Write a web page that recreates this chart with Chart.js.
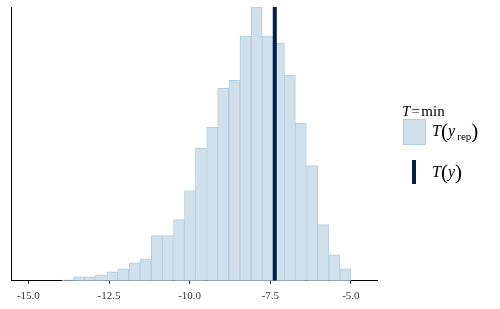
<!DOCTYPE html>
<html>
<head>
<meta charset="utf-8">
<script src="https://cdn.jsdelivr.net/npm/chart.js@4/dist/chart.umd.min.js"></script>
<style>
  html, body { margin: 0; padding: 0; background: #fff; }
  #wrap { position: relative; width: 500px; height: 309px; }
  canvas { position: absolute; left: 0; top: 0; }
  .lg { position: absolute; font-family: "Liberation Serif", "DejaVu Serif", serif; color: #000; white-space: nowrap; line-height: 1; }
  .it { font-style: italic; }
  .par { font-size: 21px; vertical-align: -2px; }
</style>
</head>
<body>
<div id="wrap">
  <canvas id="c" width="500" height="309"></canvas>
  <div class="lg" style="left:402px; top:104px; font-size:15px;"><span class="it">T</span>&#8202;=&#8202;min</div>
  <div style="position:absolute; left:403px; top:119px; width:21px; height:24px; background:#d1e1ec; border:1px solid #b3cde0;"></div>
  <div class="lg" style="left:432px; top:121px; font-size:16px;"><span class="it">T</span><span class="par">(</span><span class="it">y</span><sub style="font-size:11px; vertical-align:-4px;">&#8201;rep</sub><span class="par">)</span></div>
  <div style="position:absolute; left:412px; top:160px; width:4px; height:24px; background:#011f4b;"></div>
  <div class="lg" style="left:432px; top:162px; font-size:16px;"><span class="it">T</span><span class="par">(</span><span class="it">y</span><span class="par">)</span></div>
</div>
<script>
// Histogram bin centers (statistic T = min of y_rep)
const binCenters = [-13.78, -13.43, -13.09, -12.75, -12.40, -12.06, -11.71, -11.37, -11.02, -10.68,
                    -10.33, -9.99, -9.65, -9.30, -8.96, -8.61, -8.27, -7.92, -7.58, -7.23,
                    -6.89, -6.55, -6.20, -5.86, -5.51, -5.17];
const binCounts = [1, 4, 4, 6, 9, 12, 18, 22, 45, 45,
                   61, 90, 132, 153, 192, 200, 244, 273, 244, 237,
                   205, 157, 115, 56, 26, 12];
// Observed statistic T(y)
const observedT = -7.36;
// x-axis tick labels
const xTicks = [-15.0, -12.5, -10.0, -7.5, -5.0];
const xMin = -15.54, xMax = -4.19;

const yMax = Math.max(...binCounts);

new Chart(document.getElementById('c'), {
  type: 'bar',
  data: {
    datasets: [
      {
        type: 'line',
        label: 'T(y)',
        data: [{x: observedT, y: 0}, {x: observedT, y: yMax}],
        borderColor: '#011f4b',
        borderWidth: 4,
        pointRadius: 0,
        borderCapStyle: 'butt',
        order: 0
      },
      {
        type: 'bar',
        label: 'T(yrep)',
        data: binCenters.map((c, i) => ({x: c, y: binCounts[i]})),
        backgroundColor: '#d1e1ec',
        borderColor: '#b3cde0',
        borderWidth: 1,
        borderSkipped: false,
        barPercentage: 1.0,
        categoryPercentage: 1.0,
        grouped: false,
        order: 1
      }
    ]
  },
  options: {
    responsive: false,
    animation: false,
    layout: { padding: { left: 11, right: 123, top: 7, bottom: 0 } },
    plugins: { legend: { display: false }, tooltip: { enabled: false } },
    scales: {
      x: {
        type: 'linear',
        offset: false,
        min: xMin,
        max: xMax,
        afterBuildTicks: (scale) => { scale.ticks = xTicks.map(v => ({value: v})); },
        grid: { display: true, offset: false, drawOnChartArea: false, drawTicks: true, tickLength: 3, tickColor: '#000', tickWidth: 1 },
        border: { display: true, color: '#000', width: 1 },
        ticks: {
          color: '#333',
          font: { family: '"Liberation Serif", "DejaVu Serif", serif', size: 11 },
          padding: 6,
          maxRotation: 0,
          autoSkip: false,
          callback: (v) => Number(v).toFixed(1)
        }
      },
      y: {
        min: 0,
        max: yMax,
        grid: { display: false, drawTicks: false },
        border: { display: true, color: '#000', width: 1 },
        ticks: { display: false }
      }
    }
  }
});
</script>
</body>
</html>
